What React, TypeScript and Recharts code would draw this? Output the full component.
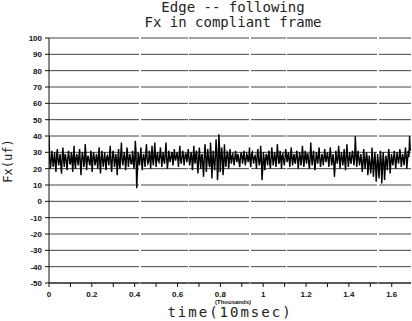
import { LineChart, Line, XAxis, YAxis, CartesianGrid } from 'recharts';

// Fx samples (uf), main readings every 6.5 samples of 10 msec
const fxPeaks = [
  40, 20, 31, 21, 30, 18, 32, 22, 29, 17, 33, 21, 28, 19, 31, 23, 30, 18, 34, 20,
  29, 22, 32, 16, 30, 21, 35, 19, 28, 23, 31, 18, 30, 22, 29, 20, 33, 17, 31, 21,
  30, 19, 28, 22, 34, 18, 31, 21, 29, 16, 32, 20, 36, 22, 30, 19, 33, 21, 29, 23,
  31, 20, 37, 8, 30, 22, 33, 19, 29, 21, 35, 23, 31, 20, 34, 22, 36, 21, 30, 24,
  33, 21, 30, 23, 36, 20, 31, 24, 29, 22, 32, 25, 30, 21, 34, 23, 31, 22, 29, 24,
  32, 22, 30, 19, 34, 23, 31, 17, 33, 20, 29, 15, 35, 18, 32, 22, 36, 14, 31, 19,
  38, 13, 41, 18, 33, 16, 35, 21, 30, 20, 32, 23, 29, 22, 31, 24, 28, 21, 30, 23,
  31, 22, 29, 24, 33, 21, 30, 23, 28, 20, 32, 22, 34, 13, 30, 19, 29, 22, 31, 20,
  33, 22, 30, 21, 35, 23, 31, 20, 29, 22, 32, 24, 30, 21, 33, 22, 29, 23, 31, 20,
  30, 22, 34, 21, 31, 23, 29, 20, 36, 22, 31, 19, 30, 23, 33, 21, 29, 22, 32, 24,
  30, 21, 33, 22, 29, 15, 31, 23, 34, 20, 30, 22, 32, 19, 35, 21, 30, 23, 31, 22,
  40, 21, 31, 22, 29, 18, 32, 20, 30, 16, 28, 17, 33, 15, 30, 12, 29, 14, 31, 11,
  30, 13, 28, 19, 32, 17, 29, 22, 31, 20, 30, 23, 32, 21, 29, 22, 33, 20, 31, 40,
];
// in-between readings (half a step later)
const fxMids = [
  26, 24, 27, 25, 23, 28, 25, 26, 22, 27, 25, 29, 24, 26, 27, 23, 28, 25, 24, 27,
  25, 28, 23, 26, 27, 24, 29, 25, 26, 22, 28, 25, 27, 24, 26, 28, 23, 27, 25, 26,
  24, 27, 25, 29, 23, 26, 28, 24, 25, 27, 22, 28, 26, 25, 27, 24, 29, 25, 26, 23,
  27, 25, 30, 18, 26, 28, 24, 27, 25, 29, 26, 24, 28, 27, 25, 29, 26, 28, 25, 27,
  28, 26, 25, 29, 27, 24, 28, 26, 30, 25, 27, 28, 26, 29, 25, 27, 28, 26, 29, 27,
  27, 25, 28, 24, 26, 29, 23, 27, 25, 28, 22, 26, 29, 24, 27, 21, 28, 25, 23, 27,
  30, 20, 33, 25, 28, 22, 27, 26, 29, 24, 27, 28, 25, 27, 26, 29, 24, 27, 28, 26,
  27, 25, 28, 26, 24, 29, 26, 27, 25, 28, 26, 24, 27, 20, 26, 25, 27, 28, 24, 26,
  28, 25, 27, 26, 29, 24, 27, 28, 25, 26, 29, 27, 25, 28, 26, 27, 24, 28, 26, 25,
  27, 26, 28, 25, 27, 29, 24, 26, 28, 27, 25, 24, 27, 28, 26, 25, 27, 26, 28, 27,
  26, 27, 28, 25, 24, 22, 27, 26, 28, 25, 27, 26, 24, 28, 27, 26, 25, 28, 27, 26,
  30, 26, 27, 25, 24, 23, 26, 25, 27, 22, 24, 21, 26, 22, 25, 19, 24, 21, 26, 20,
  25, 21, 24, 26, 27, 23, 25, 27, 26, 25, 27, 26, 28, 25, 26, 27, 28, 25, 27, 31,
];
const sampleStep = 0.0065; // thousands of 10 msec

const xTicks = [0, 0.1, 0.2, 0.3, 0.4, 0.5, 0.6, 0.7, 0.8, 0.9, 1, 1.1, 1.2, 1.3, 1.4, 1.5, 1.6];
const xLabels: Record<string, string> = {
  '0': '0', '0.2': '0.2', '0.4': '0.4', '0.6': '0.6', '0.8': '0.8',
  '1': '1', '1.2': '1.2', '1.4': '1.4', '1.6': '1.6',
};
const yTicks = [-50, -40, -30, -20, -10, 0, 10, 20, 30, 40, 50, 60, 70, 80, 90, 100];

const data = fxPeaks.flatMap((fx, i) => [
  { t: +(i * sampleStep).toFixed(5), fx },
  { t: +(i * sampleStep + sampleStep / 2).toFixed(5), fx: fxMids[i] },
]);

const tickStyle = { fontSize: 8, fontWeight: 700, fill: '#111', fontFamily: 'Liberation Sans, Arial, sans-serif' };

export default function App() {
  return (
    <div style={{ position: 'absolute', left: 0, top: 0, width: 412, height: 321, background: '#fff' }}>
      <style>{'body{margin:0}'}</style>
      <div
        style={{
          position: 'absolute', left: 0, width: 466, top: 0, textAlign: 'center',
          fontFamily: 'DejaVu Sans Mono, monospace', fontSize: 14, lineHeight: '15px', color: '#222',
        }}
      >
        <div>Edge -- following</div>
        <div>Fx in compliant frame</div>
      </div>
      <LineChart width={412} height={321} data={data} margin={{ top: 38, right: 1, bottom: 0, left: 0 }}>
        <CartesianGrid
          horizontal
          vertical={false}
          stroke="#444"
          strokeDasharray="90 2 47 1 60 2 35 1"
          horizontalValues={yTicks}
        />
        <XAxis
          dataKey="t"
          type="number"
          domain={[0, 1.69]}
          ticks={xTicks}
          interval={0}
          height={38}
          tickSize={4}
          tickMargin={4}
          stroke="#111"
          tick={tickStyle}
          tickFormatter={(v: number) => xLabels[String(+v.toFixed(1))] ?? ''}
          allowDataOverflow
        />
        <YAxis
          type="number"
          domain={[-50, 100]}
          ticks={yTicks}
          interval={0}
          width={49}
          tickSize={4}
          tickMargin={3}
          stroke="#111"
          tick={tickStyle}
        />
        <Line
          dataKey="fx"
          type="linear"
          stroke="#000"
          strokeWidth={1.4}
          dot={false}
          isAnimationActive={false}
        />
      </LineChart>
      <div
        style={{
          position: 'absolute', left: 213, top: 299, width: 40, textAlign: 'center',
          fontFamily: 'Liberation Sans, Arial, sans-serif', fontSize: 6, fontWeight: 700, color: '#111',
        }}
      >
        (Thousands)
      </div>
      <div
        style={{
          position: 'absolute', left: 130, top: 304, width: 200, textAlign: 'center',
          fontFamily: 'DejaVu Sans Mono, monospace', fontSize: 14, letterSpacing: 2, color: '#222',
        }}
      >
        time(10msec)
      </div>
      <div
        style={{
          position: 'absolute', left: -22, top: 154, width: 60, textAlign: 'center',
          transform: 'rotate(-90deg)', fontFamily: 'DejaVu Sans Mono, monospace', fontSize: 12,
          color: '#222',
        }}
      >
        Fx(uf)
      </div>
    </div>
  );
}
